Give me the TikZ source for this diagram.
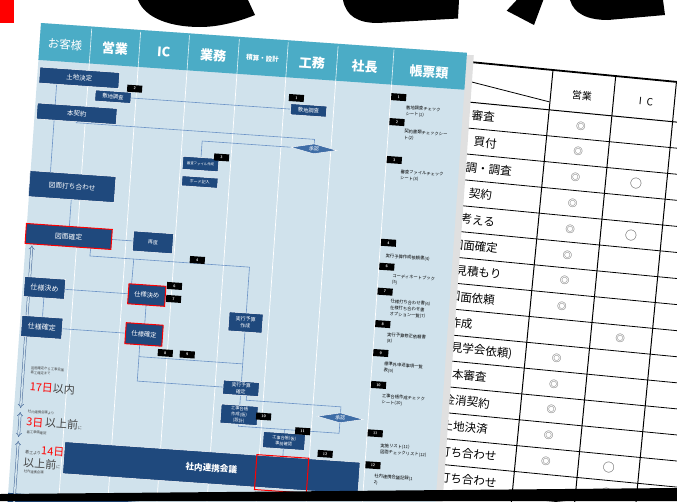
\documentclass[tikz,border=0pt]{standalone}
\usepackage{fontspec}
\newfontfamily\jp{Noto Sans CJK JP}
\usetikzlibrary{arrows.meta,calc,shapes.geometric}
\definecolor{hdr}{HTML}{4BACC6}
\definecolor{paper}{HTML}{D0E2EC}
\definecolor{navy}{HTML}{1F497D}
\definecolor{lnk}{HTML}{6C93C6}
\definecolor{arrc}{HTML}{4A6C9B}
\definecolor{apr}{HTML}{3E6DA6}
\definecolor{tgray}{HTML}{444444}
\definecolor{markc}{HTML}{6A6A6A}
\pgfdeclarelayer{back}
\pgfdeclarelayer{lines}
\pgfsetlayers{back,lines,main}
\tikzset{
  nbox/.style={fill=navy, draw=white, line width=0.5pt, text=white, align=center, inner sep=0pt, font=\jp\fontsize{5}{7.2}\selectfont},
  redbox/.style={nbox, draw=red, line width=1pt},
  tagbox/.style={fill=black, text=white, minimum width=15pt, minimum height=7pt, inner sep=0pt, font=\sffamily\bfseries\fontsize{3.8}{4}\selectfont},
  hdrtxt/.style={text=white, inner sep=0pt, font=\jp\bfseries\fontsize{13}{13}\selectfont},
  link/.style={draw=lnk, line width=0.6pt},
  formtxt/.style={anchor=north west, align=left, inner sep=0pt, text=black, font=\jp\fontsize{4.3}{6.3}\selectfont},
  approve/.style={diamond, aspect=5, fill=apr, draw=white, line width=0.4pt, minimum width=46pt, minimum height=10pt, inner sep=0pt, text=white, font=\jp\fontsize{5}{5}\selectfont},
  darr/.style={draw=arrc, line width=0.5pt, double=paper, double distance=1.6pt},
  note/.style={anchor=west, inner sep=0pt, text=tgray, font=\jp\fontsize{3.3}{4.8}\selectfont, align=left},
  bignote/.style={anchor=west, inner sep=0pt, text=tgray, font=\jp\fontsize{11}{12}\selectfont},
  rowlabel/.style={anchor=east, inner sep=0pt, font=\jp\fontsize{11.5}{12}\selectfont},
  dmark/.style={inner sep=0pt, text=markc, font=\jp\bfseries\fontsize{9.5}{10}\selectfont},
  omark/.style={inner sep=0pt, text=tgray, font=\jp\fontsize{12}{12}\selectfont},
}
\begin{document}
\begin{tikzpicture}[x=1pt,y=-1pt]
\useasboundingbox (0,0) rectangle (677,501);

% ---------------- right table (behind) ----------------
\begin{pgfonlayer}{back}
\fill[white] (0,0) rectangle (677,501);
\begin{scope}
\clip (0,0) rectangle (677,501);
\begin{scope}[shift={(553,70)}, rotate=-5.5, transform shape]
  \draw[line width=1.8pt] (-260,0) -- (260,0);
  \draw[line width=1pt] (-260,40) -- (260,40);
  \foreach \i in {1,...,17} \draw[line width=0.8pt] (-260,{40+25.95*\i}) -- (260,{40+25.95*\i});
  \draw[line width=0.8pt] (-200,1) -- (-1,32);
  \foreach \s in {0,63,124,185} \draw[line width=1pt] (\s,0) -- (\s,480);
  \node[inner sep=0pt, font=\jp\fontsize{10}{10}\selectfont] (th1) at (31.4,23) {営業};
  \node[inner sep=0pt, font=\jp\fontsize{10}{10}\selectfont] (th2) at (95.6,22.5) {I\hspace{5pt}C};
  \node[rowlabel] (r1) at (-53.2,53) {審査};
  \node[rowlabel] (r2) at (-48.7,78.9) {買付};
  \node[rowlabel] (r3) at (-31.2,104.9) {調・調査};
  \node[rowlabel] (r4) at (-48.5,130.8) {契約};
  \node[rowlabel] (r5) at (-43.1,156.8) {考える};
  \node[rowlabel] (r6) at (-37.7,182.7) {図面確定};
  \node[rowlabel] (r7) at (-31.4,208.7) {見積もり};
  \node[rowlabel] (r8) at (-35.7,234.6) {図面依頼};
  \node[rowlabel] (r9) at (-55.5,260.6) {作成};
  \node[rowlabel] (r10) at (-13.2,286.5) {見学会依頼)};
  \node[rowlabel] (r11) at (-36.5,312.5) {本審査};
  \node[rowlabel] (r12) at (-30.9,338.4) {金消契約};
  \node[rowlabel] (r13) at (-30.4,364.4) {土地決済};
  \node[rowlabel] (r14) at (-19,390.3) {打ち合わせ};
  \node[rowlabel] (r15) at (-16.6,416.3) {打ち合わせ};
  \foreach \i in {1,...,8,10,11,12,13,14}
    \node[dmark] at ({33.3-0.2*\i},{53+25.95*(\i-1)}) {◎};
  \node[dmark] at (92.5,260.6) {◎};
  \foreach \i in {3,5,14,15}
    \node[omark] at (93.5,{53+25.95*(\i-1)}) {○};
\end{scope}

% ---------------- flowchart sheet background ----------------
\begin{scope}[shift={(41,23)}, rotate=-4]
  \fill[black!12] (7,2) rectangle (434,540);
  \fill[paper] (0,0) rectangle (427,540);
  \fill[hdr] (0,0) rectangle (427,37);
  \foreach \u in {51,100,149,199,248,298,354} {
    \draw[white!85!hdr, line width=0.6pt] (\u,2) -- (\u,37);
    \draw[white, line width=0.7pt] (\u,37) -- (\u,540);
  }
  \fill[navy] (0,471) rectangle (427,540);
\end{scope}
\end{scope}
\end{pgfonlayer}

% ---------------- flowchart sheet content ----------------
\begin{scope}[shift={(41,23)}, rotate=-4, transform shape]
  % header
  \node[hdrtxt, font=\jp\fontsize{11.5}{12}\selectfont] (c1) at (25.5,20) {お客様};
  \node[hdrtxt] (c2) at (75.5,20.5) {営業};
  \node[hdrtxt] (c3) at (124.5,20.5) {IC};
  \node[hdrtxt] (c4) at (174,20) {業務};
  \node[hdrtxt, font=\jp\bfseries\fontsize{6.5}{7}\selectfont] (c5) at (223.5,20) {積算・設計};
  \node[hdrtxt] (c6) at (273,21) {工務};
  \node[hdrtxt] (c7) at (326,21) {社長};
  \node[hdrtxt] (c8) at (390.5,21.5) {帳票類};

  % boxes
  \node[nbox, minimum width=80pt, minimum height=16pt, font=\jp\fontsize{6.5}{7}\selectfont] (n1) at (42,52) {土地決定};
  \node[nbox, minimum width=36pt, minimum height=11pt, font=\jp\fontsize{5.3}{6}\selectfont] (n2) at (77,68.5) {敷地調査};
  \node[nbox, minimum width=36pt, minimum height=11pt, font=\jp\fontsize{5.3}{6}\selectfont] (n3) at (273,68.5) {敷地調査};
  \node[nbox, minimum width=80pt, minimum height=16pt, font=\jp\fontsize{6.5}{7}\selectfont] (n4) at (42,88) {本契約};
  \node[approve] (d1) at (281,106.5) {承認};
  \node[nbox, minimum width=36pt, minimum height=13pt, font=\jp\fontsize{3.4}{4}\selectfont] (n5) at (169,129.5) {審査ファイル作成};
  \node[nbox, minimum width=36pt, minimum height=10pt, font=\jp\fontsize{4}{4.5}\selectfont] (n6) at (169.5,147.5) {ボード記入};
  \node[nbox, minimum width=86pt, minimum height=26pt, font=\jp\fontsize{6.7}{7}\selectfont] (n7) at (42.5,161) {図面打ち合わせ};
  \node[redbox, minimum width=86pt, minimum height=20pt, font=\jp\fontsize{6.8}{7}\selectfont] (n8) at (42.5,211) {図面確定};
  \node[nbox, minimum width=40pt, minimum height=20pt, font=\jp\fontsize{5}{5.5}\selectfont] (n9) at (127,211) {再度};
  \node[nbox, minimum width=41pt, minimum height=20pt, font=\jp\fontsize{7}{7.5}\selectfont] (n10) at (22,264) {仕様決め};
  \node[redbox, minimum width=37pt, minimum height=20pt, font=\jp\fontsize{6.3}{7}\selectfont] (n11) at (124.5,264) {仕様決め};
  \node[nbox, minimum width=41pt, minimum height=21pt, font=\jp\fontsize{7}{7.5}\selectfont] (n12) at (22,303.5) {仕様確定};
  \node[redbox, minimum width=37pt, minimum height=21pt, font=\jp\fontsize{6.3}{7}\selectfont] (n13) at (124.5,303.5) {仕様確定};
  \node[nbox, minimum width=34pt, minimum height=19pt] (n14) at (225,284.5) {実行予算\\作成};
  \node[nbox, minimum width=36pt, minimum height=14pt, font=\jp\fontsize{4.8}{6.8}\selectfont] (n15) at (225,350.5) {実行予算\\確定};
  \node[nbox, minimum width=37pt, minimum height=19pt, font=\jp\fontsize{4.3}{6.1}\selectfont] (n16) at (225,377) {工事台帳\\作成(仮)\\(設計)};
  \node[approve] (d2) at (326,373) {承認};
  \node[nbox, minimum width=42pt, minimum height=16pt, font=\jp\fontsize{4.2}{6}\selectfont] (n17) at (271.5,400) {工事台帳(仮)\\事前確認};
  \node[nbox, minimum width=296pt, minimum height=32pt, font=\jp\bfseries\fontsize{8.6}{9}\selectfont] (band) at (201,432) {社内連携会議};
  \node[draw=red, line width=1pt, minimum width=52pt, minimum height=35pt, inner sep=0pt] (sel) at (271.5,433) {};

  % number tags in the flow
  \node[tagbox] (b2) at (98,59) {2};
  \node[tagbox] (b1) at (260,57) {1};
  \node[tagbox] (b3) at (189.5,121.5) {3};
  \node[tagbox] (b4) at (172.5,225.5) {4};
  \node[tagbox] (b6) at (151.5,253) {6};
  \node[tagbox] (b7) at (151.5,266) {7};
  \node[tagbox] (b8) at (147,320.5) {8};
  \node[tagbox] (b9) at (169,320.5) {9};
  \node[tagbox] (b10) at (249.5,377) {10};
  \node[tagbox] (b11) at (289.5,389) {11};
  \node[tagbox] (b12) at (313.5,410) {12};

  % forms column
  \node[tagbox] (f1) at (362,49) {1};
  \node[tagbox] (f2) at (362,74) {2};
  \node[tagbox] (f3) at (362,112) {3};
  \node[tagbox] (f4) at (362,195) {4};
  \node[tagbox] (f6) at (362,219) {6};
  \node[tagbox] (f7) at (362,244) {7};
  \node[tagbox] (f8) at (362,276.5) {8};
  \node[tagbox] (f9) at (362,305.5) {9};
  \node[tagbox] (f10) at (362,337.5) {10};
  \node[tagbox] (f11) at (362,386) {11};
  \node[tagbox] (f12) at (362,418) {12};
  \node[formtxt] (t1) at (370,56.5) {敷地調査チェック\\シート(1)};
  \node[formtxt] (t2) at (370,80.5) {契約書類チェックシー\\ト(2)};
  \node[formtxt] (t3) at (369,121) {審査ファイルチェック\\シート(3)};
  \node[formtxt] (t4) at (360,206) {実行予算作成依頼書(4)};
  \node[formtxt] (t6) at (368,225.5) {コーディネートブック\\(5)};
  \node[formtxt] (t7) at (368,251) {仕様打ち合わせ書(6)\\仕様打ち合わせ書\\オプション一覧(7)};
  \node[formtxt] (t8) at (367,284.5) {実行予算修正依頼書\\(8)};
  \node[formtxt] (t9) at (366,314) {標準外申送事項一覧\\表(9)};
  \node[formtxt] (t10) at (366,346) {工事台帳作成チェック\\シート(10)};
  \node[formtxt] (t11) at (368,395.5) {実施リスト(11)\\図面チェックリスト(12)};
  \node[formtxt] (t12) at (364,426.5) {社内連携会議記録(1\\2)};

  % left notes
  \node[note] (a1) at (14,347) {図面確定から工事会議\\着工確定まで};
  \node[bignote] (a2) at (14,363.5) {\textcolor{red}{17日}以内};
  \node[note] (a3) at (14,388.5) {社内連携会議より};
  \node[bignote] (a4) at (13,398.5) {\textcolor{red}{3日}\,以上前{\fontsize{4}{4}\selectfont に}};
  \node[note] (a5) at (14,409) {着工準備確認};
  \node[bignote] (a6) at (14,427) {{\fontsize{4}{4}\selectfont 着工より}\textcolor{red}{14日}};
  \node[bignote] (a7) at (13,439.5) {以上前{\fontsize{4}{4}\selectfont に}};
  \node[note] (a8) at (14,448.5) {社内連携会議};

  % connectors
  \begin{pgfonlayer}{lines}
    \coordinate (j1) at (42,97);
    \coordinate (j2) at (281,97);
    \coordinate (j3) at (169,106.5);
    \coordinate (j4) at (65,229);
    \coordinate (j5) at (225,229);
    \coordinate (j6) at (109,229);
    \coordinate (j7) at (121,326);
    \coordinate (j8) at (225,326);
    \coordinate (j9) at (121,350.5);
    \coordinate (j10) at (231,362);
    \coordinate (j11) at (326,362);
    \coordinate (j12) at (225,388.5);
    \coordinate (j13) at (326,388.5);
    \coordinate (j14) at (271.5,388.5);
    \draw[link] ($(n1.south west)!.225!(n1.south east)$) -- ($(n7.north west)!.238!(n7.north east)$);
    \draw[link] (n2.east) -- (n3.west);
    \draw[link] (n4.south) -- (j1) -- (j2) -- (d1.north);
    \draw[link] (d1.west) -- (j3) -- (n5.north);
    \draw[link] (n7.south) -- (n8.north);
    \draw[link] (n8.east) -- (n9.west);
    \draw[link] ($(n8.south west)!.762!(n8.south east)$) -- (j4) -- (j5) -- (n14.north);
    \draw[link] (j6) -- ($(n11.north west)!.081!(n11.north east)$);
    \draw[link] (n10.east) -- (n11.west);
    \draw[link] (n10.south) -- (n12.north);
    \draw[link] (n12.east) -- (n13.west);
    \draw[link] (n11.south) -- (n13.north);
    \draw[link] ($(n13.south west)!.405!(n13.south east)$) -- (j7) -- (j9) -- (n15.west);
    \draw[link] (j7) -- (j8);
    \draw[link] (n14.south) -- (n15.north);
    \draw[link] (n15.south) -- (n16.north);
    \draw[link] ($(n15.south west)!.667!(n15.south east)$) -- (j10) -- (j11) -- (d2.north);
    \draw[link] (n16.south) -- (j12) -- (j13) -- (d2.south);
    \draw[link] (n17.north) -- (j14);
    \draw[link] (n17.south) -- (sel.north);
    \coordinate (p1) at (6.5,222.5);
    \coordinate (p2) at (6.5,385.5);
    \coordinate (p3) at (6.5,389.5);
    \coordinate (p4) at (6.5,414.5);
    \coordinate (p5) at (6.5,418.5);
    \coordinate (p6) at (6.5,540);
    \draw[darr, {Implies}-{Implies}] (p1) -- (p2);
    \draw[darr, {Implies}-{Implies}] (p3) -- (p4);
    \draw[darr, {Implies}-] (p5) -- (p6);
  \end{pgfonlayer}
\end{scope}

% ---------------- foreground pieces ----------------
\fill[red] (0,0) rectangle (14,23);
\fill[black] (138,0) .. controls (145,18) and (170,27) .. (200,27) .. controls (220,27) and (240,21) .. (255,15) -- (248,0) -- cycle;
\fill[black] (343,0) .. controls (346,16) and (358,23) .. (378,23) -- (458,18.5) -- (459,0) -- cycle;
\fill[black] (506.7,10.7) -- (534,25) -- (543.3,0) -- (516.7,0) -- cycle;
\fill[black] (570,0) .. controls (574,14) and (588,20) .. (608,20) -- (665,15) -- (663,0) -- cycle;
\fill[black] (0,494) -- (677,488) -- (677,501) -- (0,501) -- cycle;
\end{tikzpicture}
\end{document}
